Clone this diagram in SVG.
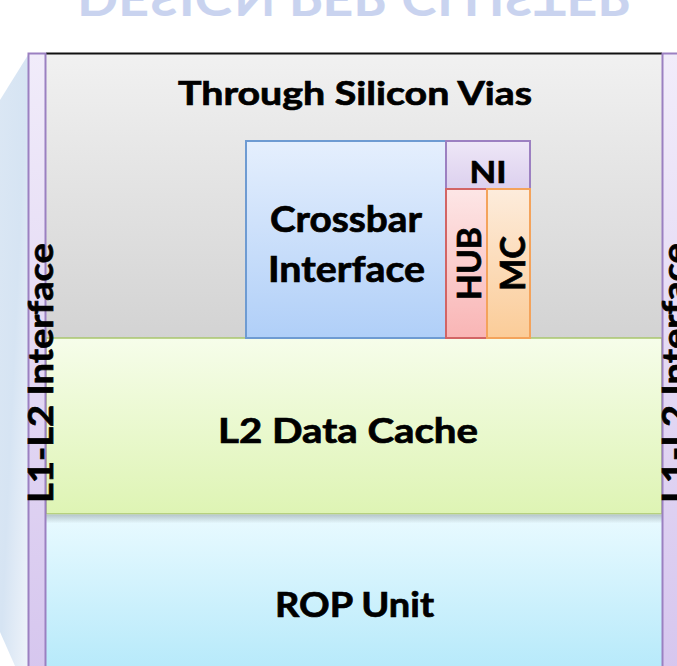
<svg xmlns="http://www.w3.org/2000/svg" width="677" height="666" viewBox="0 0 677 666">
  <defs>
    <linearGradient id="gTitle" x1="0" y1="0" x2="0" y2="15" gradientUnits="userSpaceOnUse">
      <stop offset="0" stop-color="#c9d3ef"/>
      <stop offset="1" stop-color="#ffffff"/>
    </linearGradient>
    <linearGradient id="gSide" x1="0" y1="0" x2="1" y2="1">
      <stop offset="0" stop-color="#dbe7f4"/>
      <stop offset="0.5" stop-color="#d6e4f3"/>
      <stop offset="1" stop-color="#eef3fa"/>
    </linearGradient>
    <linearGradient id="gBar" x1="0" y1="0" x2="0" y2="1">
      <stop offset="0" stop-color="#f1ecfa"/>
      <stop offset="1" stop-color="#d6c6ee"/>
    </linearGradient>
    <linearGradient id="gGrey" x1="0" y1="0" x2="0" y2="1">
      <stop offset="0" stop-color="#f1f1f1"/>
      <stop offset="1" stop-color="#d3d3d3"/>
    </linearGradient>
    <linearGradient id="gGreen" x1="0" y1="0" x2="0" y2="1">
      <stop offset="0" stop-color="#f6fdea"/>
      <stop offset="1" stop-color="#def4b4"/>
    </linearGradient>
    <linearGradient id="gCyan" x1="0" y1="0" x2="0" y2="1">
      <stop offset="0" stop-color="#e9faff"/>
      <stop offset="1" stop-color="#b5e9fa"/>
    </linearGradient>
    <linearGradient id="gShadow" x1="0" y1="0" x2="0" y2="1">
      <stop offset="0" stop-color="#8a9aa0" stop-opacity="0.55"/>
      <stop offset="1" stop-color="#8a9aa0" stop-opacity="0"/>
    </linearGradient>
    <linearGradient id="gBlue" x1="0" y1="0" x2="0" y2="1">
      <stop offset="0" stop-color="#e5effd"/>
      <stop offset="1" stop-color="#b0cff8"/>
    </linearGradient>
    <linearGradient id="gNI" x1="0" y1="0" x2="0" y2="1">
      <stop offset="0" stop-color="#eee7f7"/>
      <stop offset="1" stop-color="#dcd0ee"/>
    </linearGradient>
    <linearGradient id="gHUB" x1="0" y1="0" x2="0" y2="1">
      <stop offset="0" stop-color="#fde6e6"/>
      <stop offset="1" stop-color="#f9b5b5"/>
    </linearGradient>
    <linearGradient id="gMC" x1="0" y1="0" x2="0" y2="1">
      <stop offset="0" stop-color="#fdecdc"/>
      <stop offset="1" stop-color="#fbcc98"/>
    </linearGradient>
  </defs>
  <style>
    .lbl { font-family: Lato, "Open Sans", "Liberation Sans", sans-serif; font-weight: 700; fill: #000000; stroke: #000000; stroke-width: 0.7; }
    .bar { fill: url(#gBar); stroke: #9b80c1; stroke-width: 2; }
  </style>
  <rect width="677" height="666" fill="#ffffff"/>

  <g id="title">
    <text x="354.5" y="0" text-anchor="middle" font-size="48" textLength="555" lengthAdjust="spacingAndGlyphs" transform="translate(0,-19) scale(1,-1)" style="font-family: Lato, 'Liberation Sans', sans-serif; font-weight: 700; fill:url(#gTitle)">DESIGN PER CLUSTER</text>
  </g>

  <g id="side-face">
    <polygon points="28,55 28,666 15,666 0,632 0,100" fill="url(#gSide)"/>
  </g>

  <g id="through-silicon-vias">
    <rect x="46" y="53" width="616" height="285" fill="url(#gGrey)"/>
    <line x1="46" y1="53.5" x2="662" y2="53.5" stroke="#111111" stroke-width="2"/>
    <text class="lbl" x="355" y="105" text-anchor="middle" font-size="33" textLength="354" lengthAdjust="spacingAndGlyphs">Through Silicon Vias</text>
  </g>

  <g id="l2-data-cache">
    <rect x="46" y="338" width="616" height="176" fill="url(#gGreen)" stroke="#a9c66e" stroke-width="1.5"/>
    <text class="lbl" x="348" y="443" text-anchor="middle" font-size="34" textLength="260" lengthAdjust="spacingAndGlyphs">L2 Data Cache</text>
  </g>

  <g id="rop-unit">
    <rect x="46" y="514.5" width="616" height="160" fill="url(#gCyan)"/>
    <rect x="46" y="514.5" width="616" height="9" fill="url(#gShadow)"/>
    <text class="lbl" x="354.5" y="617" text-anchor="middle" font-size="34" textLength="159" lengthAdjust="spacingAndGlyphs">ROP Unit</text>
  </g>

  <g id="crossbar-interface">
    <rect x="246" y="141" width="200" height="197" fill="url(#gBlue)" stroke="#6e9bd2" stroke-width="2"/>
    <text class="lbl" x="346" y="232" text-anchor="middle" font-size="36" textLength="152" lengthAdjust="spacingAndGlyphs">Crossbar</text>
    <text class="lbl" x="346.5" y="282" text-anchor="middle" font-size="36" textLength="157" lengthAdjust="spacingAndGlyphs">Interface</text>
  </g>

  <g id="ni">
    <rect x="446" y="141" width="84" height="48" fill="url(#gNI)" stroke="#9c80c1" stroke-width="2"/>
    <text class="lbl" x="488" y="183" text-anchor="middle" font-size="30" textLength="37" lengthAdjust="spacingAndGlyphs">NI</text>
  </g>

  <g id="hub">
    <rect x="446" y="189" width="41" height="149" fill="url(#gHUB)" stroke="#d26565" stroke-width="2"/>
    <text class="lbl" transform="translate(481,263.5) rotate(-90)" x="0" y="0" text-anchor="middle" font-size="33" textLength="73" lengthAdjust="spacingAndGlyphs">HUB</text>
  </g>

  <g id="mc">
    <rect x="487" y="189" width="43" height="149" fill="url(#gMC)" stroke="#f4a35b" stroke-width="2"/>
    <text class="lbl" transform="translate(525,263.5) rotate(-90)" x="0" y="0" text-anchor="middle" font-size="35" textLength="55" lengthAdjust="spacingAndGlyphs">MC</text>
  </g>

  <g id="l1-l2-interface-left">
    <rect class="bar" x="28.5" y="53.5" width="17" height="620"/>
    <text class="lbl" transform="translate(53,373) rotate(-90)" x="0" y="0" text-anchor="middle" font-size="35" textLength="260" lengthAdjust="spacingAndGlyphs">L1-L2 Interface</text>
  </g>

  <g id="l1-l2-interface-right">
    <rect class="bar" x="662.5" y="53.5" width="30" height="620"/>
    <text class="lbl" transform="translate(687,373) rotate(-90)" x="0" y="0" text-anchor="middle" font-size="35" textLength="260" lengthAdjust="spacingAndGlyphs">L1-L2 Interface</text>
  </g>

  <g id="connectors"/>
</svg>
